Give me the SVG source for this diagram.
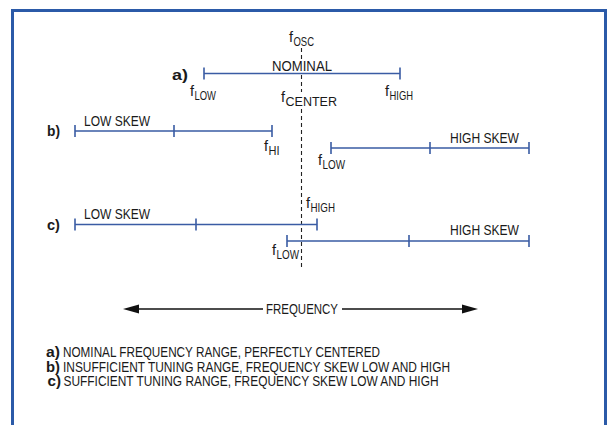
<svg xmlns="http://www.w3.org/2000/svg" width="609" height="425" viewBox="0 0 609 425">
<style>
.t{font-family:"Liberation Sans Narrow","Liberation Sans",Arial,sans-serif;font-size:14.5px;fill:#1a1a1a}
.s{font-size:12px}
.b{font-weight:bold}
.rng{stroke:#3a5ca4;stroke-width:1.6;fill:none}
.dash{stroke:#222;stroke-width:1.1;stroke-dasharray:4 3;fill:none}
.ax{stroke:#111;stroke-width:1.3;fill:none}
</style>
<rect x="0" y="0" width="609" height="425" fill="#fff"/>
<rect x="12.5" y="10.5" width="593" height="430" fill="none" stroke="#2b5aa8" stroke-width="3"/>

<g id="connectors">
  <g id="center-line">
    <line class="dash" x1="301.5" y1="48" x2="301.5" y2="59"/>
    <line class="dash" x1="301.5" y1="75" x2="301.5" y2="92"/>
    <line class="dash" x1="301.5" y1="109" x2="301.5" y2="270"/>
  </g>
  <g id="freq-axis">
    <line class="ax" x1="135" y1="309" x2="263" y2="309"/>
    <line class="ax" x1="342" y1="309" x2="466" y2="309"/>
    <polygon points="123,309 139,304.5 139,313.5" fill="#111"/>
    <polygon points="478,309 462,304.5 462,313.5" fill="#111"/>
  </g>
</g>

<g id="fosc">
  <text class="t" x="289" y="42">f</text>
  <text class="t s" x="293.5" y="46" textLength="20.5" lengthAdjust="spacingAndGlyphs">OSC</text>
</g>

<g id="row-a">
  <text class="t b" x="172" y="80" textLength="16" lengthAdjust="spacingAndGlyphs">a)</text>
  <path class="rng" d="M204,73.5H400M204,67.5V79.5M400,67.5V79.5"/>
  <text class="t" x="272" y="70.5" textLength="60" lengthAdjust="spacingAndGlyphs">NOMINAL</text>
  <text class="t" x="190" y="96">f</text>
  <text class="t s" x="194.5" y="100" textLength="21.5" lengthAdjust="spacingAndGlyphs">LOW</text>
  <text class="t" x="281" y="102">f</text>
  <text class="t s" x="285.5" y="106" textLength="51.5" lengthAdjust="spacingAndGlyphs">CENTER</text>
  <text class="t" x="385" y="96">f</text>
  <text class="t s" x="389.5" y="100" textLength="23.5" lengthAdjust="spacingAndGlyphs">HIGH</text>
</g>

<g id="row-b-low">
  <text class="t b" x="47" y="136" textLength="13" lengthAdjust="spacingAndGlyphs">b)</text>
  <path class="rng" d="M75,131H272M75,125V137M174,125V137M272,125V137"/>
  <text class="t" x="84" y="126" textLength="66" lengthAdjust="spacingAndGlyphs">LOW SKEW</text>
  <text class="t" x="264" y="151">f</text>
  <text class="t s" x="268.5" y="155" textLength="11" lengthAdjust="spacingAndGlyphs">HI</text>
</g>

<g id="row-b-high">
  <path class="rng" d="M331,148H529M331,142V154M430,142V154M529,142V154"/>
  <text class="t" x="450" y="143" textLength="69" lengthAdjust="spacingAndGlyphs">HIGH SKEW</text>
  <text class="t" x="318" y="165">f</text>
  <text class="t s" x="322.5" y="169" textLength="22.5" lengthAdjust="spacingAndGlyphs">LOW</text>
</g>

<g id="row-c-low">
  <text class="t b" x="47" y="230" textLength="13" lengthAdjust="spacingAndGlyphs">c)</text>
  <path class="rng" d="M75,224.5H317M75,218.5V230.5M196,218.5V230.5M317,218.5V230.5"/>
  <text class="t" x="84" y="219" textLength="66" lengthAdjust="spacingAndGlyphs">LOW SKEW</text>
  <text class="t" x="306" y="208">f</text>
  <text class="t s" x="310.5" y="212" textLength="24.5" lengthAdjust="spacingAndGlyphs">HIGH</text>
</g>

<g id="row-c-high">
  <path class="rng" d="M287,241H529M287,235V247M409,235V247M529,235V247"/>
  <text class="t" x="450" y="235" textLength="69" lengthAdjust="spacingAndGlyphs">HIGH SKEW</text>
  <text class="t" x="272" y="255">f</text>
  <text class="t s" x="276.5" y="259" textLength="22.5" lengthAdjust="spacingAndGlyphs">LOW</text>
</g>

<g id="axis-label">
  <text class="t" x="266" y="314" textLength="72" lengthAdjust="spacingAndGlyphs">FREQUENCY</text>
</g>

<g id="legend">
  <text class="t b" x="46" y="357" textLength="14" lengthAdjust="spacingAndGlyphs">a)</text>
  <text class="t" x="63" y="357" textLength="317" lengthAdjust="spacingAndGlyphs">NOMINAL FREQUENCY RANGE, PERFECTLY CENTERED</text>
  <text class="t b" x="46" y="371.5" textLength="14" lengthAdjust="spacingAndGlyphs">b)</text>
  <text class="t" x="63" y="371.5" textLength="387" lengthAdjust="spacingAndGlyphs">INSUFFICIENT TUNING RANGE, FREQUENCY SKEW LOW AND HIGH</text>
  <text class="t b" x="47.5" y="386" textLength="13.5" lengthAdjust="spacingAndGlyphs">c)</text>
  <text class="t" x="63.5" y="386" textLength="375" lengthAdjust="spacingAndGlyphs">SUFFICIENT TUNING RANGE, FREQUENCY SKEW LOW AND HIGH</text>
</g>
</svg>
